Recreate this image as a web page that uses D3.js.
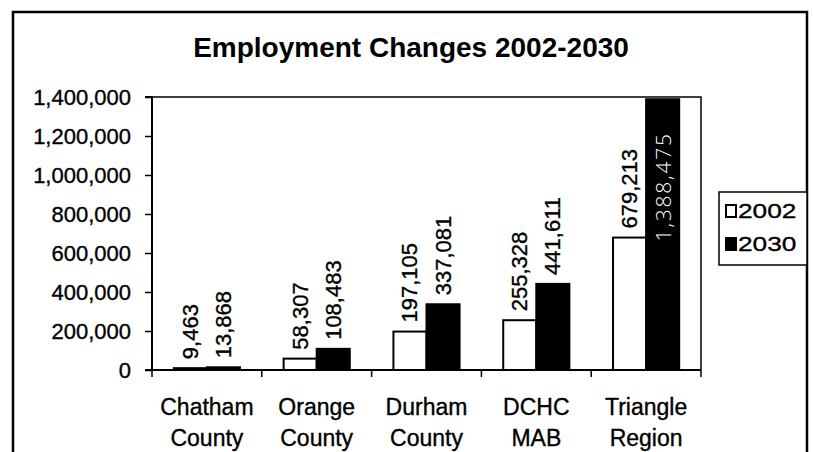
<!DOCTYPE html>
<html>
<head>
<meta charset="utf-8">
<script src="https://cdn.jsdelivr.net/npm/d3@7"></script>
<style>
  html, body { margin: 0; padding: 0; background: #fff; }
  svg { display: block; font-family: "Liberation Sans", Arial, sans-serif; }
  .ink { stroke: #000; stroke-width: 0.35px; }
</style>
</head>
<body>
<svg id="chart" width="813" height="452"></svg>
<script>
// ---- data ----
const title = "Employment Changes 2002-2030";
const categories = [["Chatham", "County"], ["Orange", "County"], ["Durham", "County"], ["DCHC", "MAB"], ["Triangle", "Region"]];
const seriesNames = ["2002", "2030"];
const values2002 = [9463, 58307, 197105, 255328, 679213];
const values2030 = [13868, 108483, 337081, 441611, 1388475];
const yTicks = [0, 200000, 400000, 600000, 800000, 1000000, 1200000, 1400000];

const svg = d3.select("#chart");

// outer frame
svg.append("rect").attr("x", 13).attr("y", 12).attr("width", 794).attr("height", 470)
  .attr("fill", "#fff").attr("stroke", "#000").attr("stroke-width", 2.5);

// title
svg.append("text").attr("x", 411).attr("y", 57).attr("text-anchor", "middle")
  .attr("font-size", 28).attr("font-weight", "bold").attr("fill", "#000").text(title);

const plot = { left: 152, right: 701, top: 97, bottom: 370 };

const catIdx = categories.map((d, i) => i);
const x0 = d3.scaleBand().domain(catIdx).range([plot.left, plot.right]).paddingInner(0).paddingOuter(0);
const x1 = d3.scaleBand().domain(seriesNames).range([0, x0.bandwidth()]).paddingInner(0).paddingOuter(0.66);
const y = d3.scaleLinear().domain([0, 1400000]).range([plot.bottom, plot.top]);

// plot area border (top & right)
svg.append("path")
  .attr("d", `M${plot.left},${plot.top}H${plot.right}V${plot.bottom}`)
  .attr("fill", "none").attr("stroke", "#000").attr("stroke-width", 1.5);

// bars
const data = catIdx.map(i => ({ i, vals: [values2002[i], values2030[i]] }));
const groups = svg.append("g").selectAll("g").data(data).join("g")
  .attr("transform", d => `translate(${x0(d.i)},0)`);

groups.selectAll("rect").data(d => d.vals.map((v, k) => ({ v, s: seriesNames[k] }))).join("rect")
  .attr("x", d => x1(d.s))
  .attr("y", d => y(d.v))
  .attr("width", x1.bandwidth())
  .attr("height", d => y(0) - y(d.v))
  .attr("fill", d => d.s === "2002" ? "#fff" : "#000")
  .attr("stroke", "#000").attr("stroke-width", 2);

// data labels
groups.each(function (d) {
  const g = d3.select(this);
  d.vals.forEach((v, k) => {
    const s = seriesNames[k];
    const cx = x1(s) + x1.bandwidth() / 2;
    const inside = y(v) - plot.top < 100;
    if (!inside) {
      g.append("text").attr("class", "ink")
        .attr("transform", `translate(${cx},${y(v) - 9}) rotate(-90)`)
        .attr("text-anchor", "start").attr("dominant-baseline", "central")
        .attr("font-size", 22).attr("fill", "#000")
        .text(d3.format(",")(v));
    } else {
      g.append("text")
        .attr("transform", `translate(${cx},${y(v) + 33}) rotate(-90)`)
        .attr("text-anchor", "end").attr("dominant-baseline", "central")
        .attr("font-family", "'Open Sans', sans-serif")
        .attr("font-size", 21).attr("font-weight", 300).attr("letter-spacing", 1.8)
        .attr("fill", "#fff")
        .text(d3.format(",")(v));
    }
  });
});

// y axis
const yAxis = d3.axisLeft(y).tickValues(yTicks).tickFormat(d3.format(",")).tickSize(7).tickPadding(14);
const ya = svg.append("g").attr("transform", `translate(${plot.left},0)`).call(yAxis);
ya.select(".domain").attr("stroke", "#000").attr("stroke-width", 2).attr("d", `M-7,${plot.top}H0V${plot.bottom}H-7`);
ya.selectAll(".tick line").attr("stroke", "#000").attr("stroke-width", 1.5);
ya.selectAll(".tick text").attr("class", "ink").attr("font-size", 22).attr("fill", "#000")
  .attr("font-family", "'Liberation Sans', Arial, sans-serif");

// x axis line with tick marks at category boundaries
const xBounds = catIdx.map(i => x0(i)).concat([plot.right]);
svg.append("line").attr("x1", plot.left).attr("x2", plot.right).attr("y1", plot.bottom).attr("y2", plot.bottom)
  .attr("stroke", "#000").attr("stroke-width", 2);
svg.append("g").selectAll("line").data(xBounds).join("line")
  .attr("x1", d => d).attr("x2", d => d).attr("y1", plot.bottom).attr("y2", plot.bottom + 7)
  .attr("stroke", "#000").attr("stroke-width", 1.5);

// category labels
const cl = svg.append("g").selectAll("text").data(data).join("text").attr("class", "ink")
  .attr("x", d => x0(d.i) + x0.bandwidth() / 2)
  .attr("text-anchor", "middle").attr("font-size", 23).attr("fill", "#000");
cl.each(function (d) {
  const t = d3.select(this);
  categories[d.i].forEach((line, j) => {
    t.append("tspan").attr("x", x0(d.i) + x0.bandwidth() / 2).attr("y", 415 + j * 31).text(line);
  });
});

// legend
const lg = svg.append("g");
lg.append("rect").attr("x", 719).attr("y", 192).attr("width", 88).attr("height", 73)
  .attr("fill", "#fff").attr("stroke", "#000").attr("stroke-width", 1.5);
seriesNames.forEach((s, k) => {
  const yy = 205 + k * 33;
  lg.append("rect").attr("x", 726).attr("y", yy).attr("width", 10).attr("height", 12)
    .attr("fill", k === 0 ? "#fff" : "#000").attr("stroke", "#000").attr("stroke-width", 2);
  lg.append("text").attr("class", "ink")
    .attr("transform", `translate(738,${yy + 13}) scale(1.25,1)`)
    .attr("font-size", 21).attr("fill", "#000").text(s);
});
</script>
</body>
</html>
